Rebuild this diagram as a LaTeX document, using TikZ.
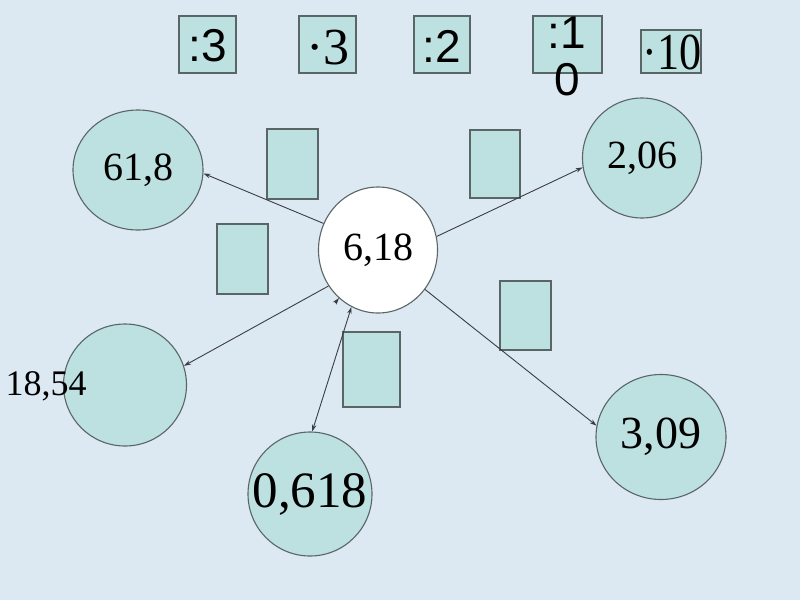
\documentclass[tikz,border=0pt]{standalone}
\usepackage{fontspec}
\setmainfont{Liberation Serif}
\newfontfamily\arialf{Liberation Sans}
\usetikzlibrary{shapes.geometric,arrows.meta}
\definecolor{bgc}{HTML}{DCE9F3}
\definecolor{tealc}{HTML}{BDE0E0}
\definecolor{edgec}{HTML}{5A6666}
\definecolor{linec}{HTML}{3C3C44}
\tikzset{
  numcirc/.style={ellipse, draw=edgec, line width=1.1pt, fill=tealc, inner sep=0pt, font=\fontsize{40}{44}\selectfont},
  opbox/.style={draw=edgec, line width=1.2pt, fill=tealc},
  optext/.style={inner sep=0pt, font=\fontsize{52}{56}\selectfont},
  aroptext/.style={inner sep=0pt, font=\arialf\fontsize{46}{48}\selectfont},
  conn/.style={draw=linec, line width=0.9pt, -{Stealth[length=7pt,width=4.5pt]}},
}
\begin{document}
\begin{tikzpicture}[x=1pt,y=-1pt]
\useasboundingbox (0,0) rectangle (800,600);
\fill[bgc] (0,0) rectangle (800,600);
% operation boxes
\draw[opbox] (179,16) rectangle (236,73);
\node[aroptext] (op1) at (207.5,46) {:3};
\draw[opbox] (299,16) rectangle (356,73);
\node[optext] (op2) at (328,48) {·3};
\draw[opbox] (414,16) rectangle (470,73);
\node[aroptext] (op3) at (442,46) {:2};
\draw[opbox] (533,16) rectangle (602,73);
\node[aroptext] (op4a) at (567,33) {:1};
\node[aroptext] (op4b) at (567,80) {0};
\draw[opbox] (641,30) rectangle (701,73);
\node[optext] (op5) at (672,52) {\scalebox{0.85}[1]{·10}};
% empty boxes
\draw[opbox] (267,129) rectangle (318,199);
\draw[opbox] (217,224) rectangle (268,294);
\draw[opbox] (470,130) rectangle (520,198);
\draw[opbox] (500,281) rectangle (551,350);
\draw[opbox] (343,332) rectangle (400,407);
% circles
\node[numcirc, minimum width=119, minimum height=126, fill=white] (c) at (378,250) {6,18};
\node[numcirc, minimum width=130, minimum height=120] (a) at (138,170) {61,8};
\node[numcirc, minimum width=119, minimum height=120] (b) at (642,158) {2,06};
\node[numcirc, minimum width=123, minimum height=122] (d) at (125,385) {};
\node[numcirc, minimum width=124, minimum height=124] (e) at (310,494) {};
\node[inner sep=0pt, font=\fontsize{51}{54}\selectfont] (et) at (e.center) {0,618};
\node[numcirc, minimum width=130, minimum height=125] (f) at (661,437) {};
\node[inner sep=0pt, font=\fontsize{46}{50}\selectfont] (ft) at (f.center) {3,09};
\node[inner sep=0pt, font=\fontsize{36}{40}\selectfont] (dt) at (46,386) {18,54};
% connectors
\draw[conn] (c.154) -- (a.357);
\draw[conn] (c.13) -- (b.189);
\draw[conn] (c.320) -- (f.170);
\draw[conn] (c.216) -- (d.18);
\draw[conn, {Stealth[length=7pt,width=4.5pt]}-{Stealth[length=7pt,width=4.5pt]}] (c.245) -- (e.88);
\coordinate (s1) at (335,303);
\coordinate (s2) at (339,298);
\draw[conn] (s1) -- (s2);
\end{tikzpicture}
\end{document}
